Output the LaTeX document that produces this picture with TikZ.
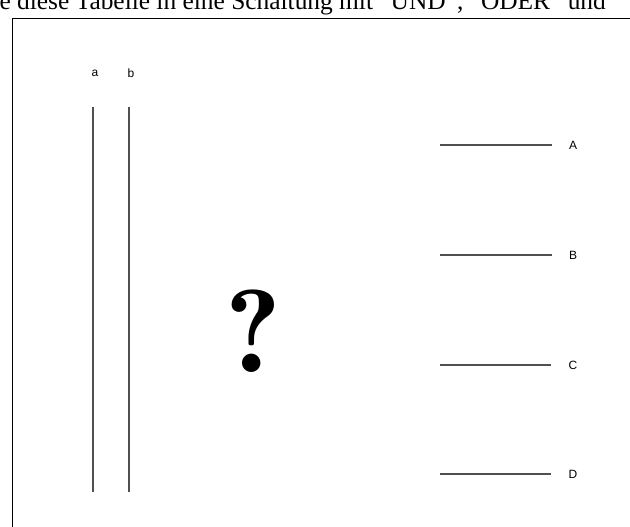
\documentclass[tikz,border=0pt]{standalone}
\usepackage{fontspec}
\setmainfont{Liberation Serif}
\newfontfamily\labelfont{Liberation Sans}
\newfontfamily\fragefont{lmromandemi10-regular.otf}
\usepackage{xcolor}
\usepackage{tikz}
\usetikzlibrary{positioning}
\definecolor{leitung}{RGB}{80,80,80}

\begin{document}
\begin{tikzpicture}[
        x=1pt, y=-1pt,
        frame/.style={draw=black, line width=1pt},
        wire/.style={draw=leitung, line width=1.1pt},
        signal/.style={font=\labelfont\fontsize{12}{12}\selectfont, inner sep=0pt},
        headline/.style={font=\fontsize{25.4}{25.4}\selectfont, inner sep=0pt, anchor=base east}
    ]
        \useasboundingbox (0,0) rectangle (630,527);
        % abgeschnittene Aufgabenzeile und Rahmen
        \begin{scope}
            \clip (0,0) rectangle (630,527);
            \node[headline] (aufgabe) at (606,10) {e diese Tabelle in eine Schaltung mit "UND", "ODER" und};
        \end{scope}
        \coordinate (rahmenOL) at (12,19);
        \coordinate (rahmenOR) at (630,19);
        \coordinate (rahmenUL) at (12,527);
        \draw[frame] (rahmenOR) -- (rahmenOL) -- (rahmenUL);

        % Eingaenge
        \node[signal] (a) at (95,73) {a};
        \node[signal] (b) at (131,73) {b};
        \coordinate (aoben) at (93,107);
        \coordinate (aunten) at (93,492);
        \coordinate (boben) at (129,107);
        \coordinate (bunten) at (129,492);
        \draw[wire] (aoben) -- (aunten);
        \draw[wire] (boben) -- (bunten);

        % Ausgaenge
        \node[signal] (A) at (573,145) {A};
        \node[signal] (B) at (573,255) {B};
        \node[signal] (C) at (573,365) {C};
        \node[signal] (D) at (573,474) {D};
        \coordinate (inA) at (440,145);
        \coordinate (inB) at (440,255);
        \coordinate (inC) at (440,365);
        \coordinate (inD) at (440,474);
        \draw[wire] (inA) -- ([xshift=-17pt]A.west);
        \draw[wire] (inB) -- ([xshift=-17pt]B.west);
        \draw[wire] (inC) -- ([xshift=-17pt]C.west);
        \draw[wire] (inD) -- ([xshift=-17pt]D.west);

        % gesuchte Schaltung
        \node[inner sep=0pt, anchor=base, font=\fragefont\fontsize{118}{118}\selectfont] (frage) at (253,372) {?};
    \end{tikzpicture}
\end{document}
